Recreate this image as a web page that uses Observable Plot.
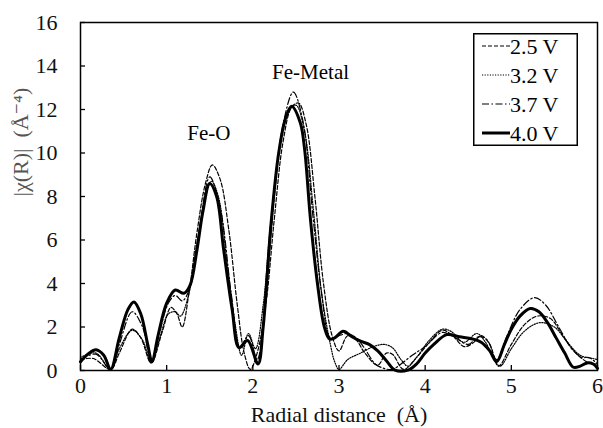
<!DOCTYPE html>
<html>
<head>
<meta charset="utf-8">
<script src="https://cdn.jsdelivr.net/npm/d3@7"></script>
<script src="https://cdn.jsdelivr.net/npm/@observablehq/plot@0.6"></script>
<style>
  html, body { margin: 0; padding: 0; background: #fff; }
  #wrap { position: relative; width: 603px; height: 428px; font-family: "Liberation Serif", "Times New Roman", "DejaVu Serif", serif; }
  #legend { position: absolute; left: 473px; top: 33px; }
  svg text { font-family: "Liberation Serif", "Times New Roman", "DejaVu Serif", serif; }
</style>
</head>
<body>
<div id="wrap"><div id="chart"></div><div id="legend"></div></div>
<script>
// ---- data ----
const seriesNames = ["2.5 V", "3.2 V", "3.7 V", "4.0 V"];

const r25 = [0, 0.15, 0.35, 0.45, 0.6, 0.7, 0.82, 0.95, 1.05, 1.12, 1.18, 1.26, 1.35, 1.45, 1.53, 1.62, 1.72, 1.82, 1.9, 1.97, 2.05, 2.15, 2.25, 2.35, 2.45, 2.53, 2.62, 2.72, 2.82, 2.92, 3.0, 3.1, 3.2, 3.3, 3.45, 3.55, 3.62, 3.75, 3.9, 4.05, 4.2, 4.32, 4.45, 4.55, 4.65, 4.75, 4.85, 5.0, 5.15, 5.3, 5.45, 5.6, 5.75, 5.9, 6.0];
const chi25 = [0.5, 0.55, 0.05, 0.8, 1.9, 1.5, 0.35, 1.8, 2.9, 2.6, 2.0, 3.6, 6.3, 8.6, 9.45, 8.8, 6.5, 3.0, 0.8, 0.05, 0.8, 3.0, 7.0, 10.5, 12.1, 12.3, 11.3, 8.0, 4.0, 1.6, 0.9, 1.6, 1.4, 0.8, 0.25, 0.8, 0.75, 0.05, 0.6, 1.3, 1.85, 1.6, 1.1, 1.25, 1.6, 1.2, 0.2, 1.2, 2.1, 2.5, 2.4, 1.6, 0.8, 0.35, 0.3];

const r32 = [0, 0.18, 0.35, 0.45, 0.6, 0.72, 0.82, 0.92, 1.02, 1.1, 1.16, 1.25, 1.35, 1.45, 1.52, 1.6, 1.7, 1.8, 1.87, 1.95, 2.03, 2.12, 2.2, 2.3, 2.4, 2.5, 2.6, 2.7, 2.8, 2.9, 2.95, 3.0, 3.1, 3.25, 3.4, 3.52, 3.62, 3.72, 3.8, 3.9, 4.05, 4.2, 4.3, 4.45, 4.6, 4.7, 4.8, 4.87, 5.0, 5.15, 5.33, 5.5, 5.65, 5.8, 5.95, 6.0];
const chi32 = [0.6, 0.8, 0.05, 1.0, 1.85, 1.4, 0.35, 1.5, 2.6, 2.7, 2.5, 3.4, 5.8, 8.0, 8.7, 8.0, 5.0, 2.0, 0.7, 1.7, 1.0, 3.0, 6.5, 10.0, 11.8, 12.2, 11.0, 7.5, 3.5, 1.2, 0.4, 0.05, 0.5, 0.8, 1.1, 1.2, 1.05, 0.5, 0.2, 0.6, 1.4, 1.9, 1.8, 1.3, 1.7, 1.3, 0.5, 0.2, 1.0, 1.8, 2.2, 2.0, 1.3, 0.7, 0.55, 0.5];

const r37 = [0, 0.18, 0.35, 0.45, 0.6, 0.72, 0.82, 0.92, 1.02, 1.1, 1.18, 1.27, 1.38, 1.5, 1.62, 1.75, 1.85, 1.95, 2.05, 2.15, 2.25, 2.35, 2.47, 2.58, 2.7, 2.8, 2.9, 3.0, 3.1, 3.2, 3.3, 3.42, 3.52, 3.62, 3.72, 3.85, 4.0, 4.2, 4.35, 4.5, 4.62, 4.72, 4.83, 4.95, 5.1, 5.27, 5.4, 5.55, 5.7, 5.82, 5.9, 6.0];
const chi37 = [0.5, 0.75, 0.05, 1.2, 2.7, 2.0, 0.4, 1.8, 3.1, 3.45, 3.2, 3.8, 6.5, 8.9, 7.5, 3.5, 1.1, 1.6, 0.5, 3.5, 8.0, 11.3, 12.8, 11.5, 7.0, 3.5, 1.5, 1.6, 1.7, 1.5, 1.0, 0.3, 0.1, 0.05, 0.3, 0.7, 1.1, 1.75, 1.5, 1.2, 1.55, 1.4, 0.5, 1.6, 2.8, 3.35, 3.0, 2.0, 1.0, 0.6, 0.6, 0.3];

const r40 = [0, 0.1, 0.18, 0.27, 0.35, 0.45, 0.55, 0.62, 0.7, 0.78, 0.83, 0.9, 1.0, 1.1, 1.2, 1.27, 1.35, 1.42, 1.5, 1.58, 1.66, 1.76, 1.84, 1.94, 2.06, 2.12, 2.21, 2.3, 2.38, 2.45, 2.55, 2.6, 2.67, 2.75, 2.83, 2.89, 2.95, 3.05, 3.15, 3.25, 3.35, 3.45, 3.55, 3.65, 3.8, 3.9, 4.0, 4.1, 4.25, 4.4, 4.55, 4.65, 4.75, 4.83, 4.92, 5.0, 5.1, 5.22, 5.32, 5.42, 5.52, 5.62, 5.72, 5.8, 5.88, 5.95, 6.0];
const chi40 = [0.4, 0.8, 0.95, 0.7, 0.05, 1.5, 2.8, 3.15, 2.6, 1.2, 0.4, 1.6, 3.1, 3.7, 3.55, 3.9, 5.5, 7.3, 8.6, 8.0, 5.6, 2.8, 1.05, 1.38, 0.3, 2.0, 6.7, 10.0, 11.6, 12.15, 11.4, 10.2, 6.9, 4.0, 2.0, 1.45, 1.5, 1.8, 1.55, 1.35, 1.2, 0.9, 0.45, 0.02, 0.02, 0.3, 0.8, 1.2, 1.65, 1.55, 1.45, 1.3, 0.9, 0.4, 1.2, 1.9, 2.5, 2.85, 2.7, 2.2, 1.5, 0.8, 0.15, 0.2, 0.35, 0.3, 0.1];

const xTicks = [0, 1, 2, 3, 4, 5, 6];
const yTicks = [0, 2, 4, 6, 8, 10, 12, 14, 16];
const peakLabels = ["Fe-O", "Fe-Metal"];
const peakX = [1.49, 2.67];
const peakY = [10.9, 13.7];
const xTitle = "Radial distance  (Å)";
const yTitle = "|χ(R)|  (Å⁻⁴)";

// ---- build rows ----
const radii = [r25, r32, r37, r40];
const chis = [chi25, chi32, chi37, chi40];
const rows = seriesNames.flatMap((s, i) => radii[i].map((r, j) => ({series: s, r, chi: chis[i][j]})));
const styles = {
  "2.5 V": {dash: "4,2", width: 1.2},
  "3.2 V": {dash: "1.2,1.4", width: 1.2},
  "3.7 V": {dash: "7,2.5,1.5,2.5", width: 1.2},
  "4.0 V": {dash: null, width: 3}
};
const serif = '"Liberation Serif", "Times New Roman", "DejaVu Serif", serif';

const lineMarks = seriesNames.map(s => Plot.line(rows.filter(d => d.series === s), {
  x: "r", y: "chi", stroke: "black", strokeWidth: styles[s].width,
  strokeDasharray: styles[s].dash || undefined, curve: "catmull-rom"
}));

const chart = Plot.plot({
  width: 603,
  height: 428,
  marginLeft: 80,
  marginRight: 6,
  marginTop: 22,
  marginBottom: 58,
  style: {fontFamily: serif, fontSize: "22px", color: "black", background: "white"},
  x: {domain: [0, 6]},
  y: {domain: [0, 16]},
  marks: [
    ...lineMarks,
    Plot.text(peakLabels, {x: (d, i) => peakX[i], y: (d, i) => peakY[i], text: d => d, fontSize: 21, fill: "black"}),
    Plot.axisX({ticks: xTicks, tickSize: 5, dy: -5, tickPadding: 7, tickFormat: d => String(d), label: null, fontSize: 22, strokeWidth: 1.3, fill: "#111"}),
    Plot.axisY({ticks: yTicks, tickSize: 5, dx: 5, tickPadding: 23, tickFormat: d => String(d), label: null, fontSize: 22, strokeWidth: 1.3, fill: "#111"}),
    Plot.text([xTitle], {frameAnchor: "bottom", lineAnchor: "middle", dy: 44, fontSize: 22, fill: "#111"}),
    Plot.text([yTitle], {frameAnchor: "left", rotate: -90, dx: -60, fontSize: 22, fill: "#555"}),
    Plot.frame({stroke: "black", strokeWidth: 1.5})
  ]
});
document.getElementById("chart").append(chart);

// ---- legend ----
const lw = 105, lh = 113;
const ns = "http://www.w3.org/2000/svg";
const lsvg = document.createElementNS(ns, "svg");
lsvg.setAttribute("width", lw);
lsvg.setAttribute("height", lh);
lsvg.innerHTML = `<rect x="0.75" y="0.75" width="${lw - 1.5}" height="${lh - 1.5}" fill="white" stroke="black" stroke-width="1.5"/>` +
  seriesNames.map((s, i) => {
    const y = 13 + i * 29;
    const st = styles[s];
    return `<line x1="9" x2="37" y1="${y}" y2="${y}" stroke="black" stroke-width="${st.width}" ${st.dash ? `stroke-dasharray="${st.dash}"` : ""}/>` +
      `<text x="37" y="${y}" dy="0.35em" font-size="22">${s}</text>`;
  }).join("");
document.getElementById("legend").append(lsvg);
</script>
</body>
</html>
